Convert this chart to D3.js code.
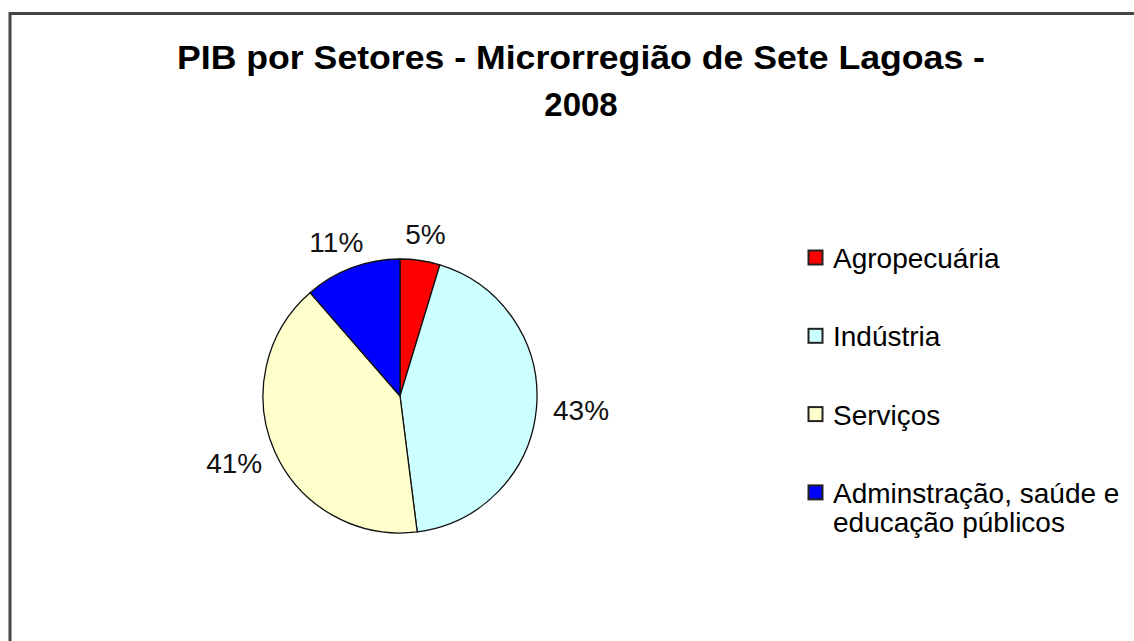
<!DOCTYPE html>
<html>
<head>
<meta charset="utf-8">
<script src="https://cdn.jsdelivr.net/npm/d3@7/dist/d3.min.js"></script>
<style>
  body { margin: 0; background: #fff; }
  svg { display: block; font-family: "Liberation Sans", Arial, sans-serif; }
</style>
</head>
<body>
<svg id="chart" width="1134" height="641"></svg>
<script>
// chart data
var titleLines = ['PIB por Setores - Microrregião de Sete Lagoas -', '2008'];
var sectors = ['Agropecuária', 'Indústria', 'Serviços', 'Adminstração, saúde e educação públicos'];
var legendLines = [['Agropecuária'], ['Indústria'], ['Serviços'], ['Adminstração, saúde e', 'educação públicos']];
var shares = [4.7, 43.3, 40.6, 11.4];
var sliceColors = ['#ff0000', '#ccffff', '#ffffcc', '#0000ff'];

(function PieChartModule() {

  'use strict';

  // vars
  var _svg = d3.select('#chart'),
    _cx = 400,
    _cy = 396,
    _radius = 137,
    _labelGap = 17,
    _fontSize = 28;

  var data = sectors.map(function (name, i) {
    return { name: name, value: shares[i], color: sliceColors[i] };
  });

  // frame (only top and left edges are visible in the crop)
  _svg.append('rect')
    .attr('x', 10)
    .attr('y', 13.5)
    .attr('width', 1300)
    .attr('height', 800)
    .attr('fill', 'none')
    .attr('stroke', '#444')
    .attr('stroke-width', 3);

  // title
  var title = _svg.append('g')
    .attr('font-weight', 'bold')
    .attr('font-size', 33)
    .attr('fill', '#000');

  title.append('text')
    .attr('x', 177)
    .attr('y', 69)
    .attr('textLength', 808)
    .attr('lengthAdjust', 'spacingAndGlyphs')
    .text(titleLines[0]);

  title.append('text')
    .attr('x', 581)
    .attr('y', 116)
    .attr('text-anchor', 'middle')
    .text(titleLines[1]);

  // pie
  var pie = d3.pie()
    .sort(null)
    .value(function (d) { return d.value; });

  var arc = d3.arc()
    .innerRadius(0)
    .outerRadius(_radius);

  var arcs = pie(data);
  var total = d3.sum(shares);

  var g = _svg.append('g')
    .attr('transform', 'translate(' + _cx + ',' + _cy + ')');

  g.selectAll('path')
    .data(arcs)
    .enter()
    .append('path')
    .attr('d', arc)
    .attr('fill', function (d) { return d.data.color; })
    .attr('stroke', '#111')
    .attr('stroke-width', 1.3);

  // percentage labels, box pushed outward from the rim
  g.selectAll('text.pct')
    .data(arcs)
    .enter()
    .append('text')
    .attr('class', 'pct')
    .attr('font-size', _fontSize)
    .attr('fill', '#111')
    .attr('text-anchor', 'middle')
    .each(function (d) {
      var a = (d.startAngle + d.endAngle) / 2;
      var s = Math.sin(a), c = Math.cos(a);
      var label = Math.round(d.data.value / total * 100) + '%';
      var halfW = label.length * _fontSize * 0.33;
      var halfH = 10;
      var x = (_radius + _labelGap) * s + halfW * s;
      var y = -(_radius + _labelGap) * c - halfH * c;
      d3.select(this)
        .attr('x', x)
        .attr('y', y + 10)
        .text(label);
    });

  // legend
  var legend = _svg.append('g')
    .attr('transform', 'translate(808,268)');

  var item = legend.selectAll('g')
    .data(data)
    .enter()
    .append('g')
    .attr('transform', function (d, i) { return 'translate(0,' + (i * 78.3) + ')'; });

  item.append('rect')
    .attr('x', 0.5)
    .attr('y', -17.5)
    .attr('width', 14)
    .attr('height', 14)
    .attr('fill', function (d) { return d.color; })
    .attr('stroke', '#222')
    .attr('stroke-width', 2);

  item.append('text')
    .attr('font-size', _fontSize)
    .attr('fill', '#000')
    .each(function (d, i) {
      var t = d3.select(this);
      legendLines[i].forEach(function (line, j) {
        t.append('tspan')
          .attr('x', 25)
          .attr('y', j * 29)
          .text(line);
      });
    });

})();
</script>
</body>
</html>
